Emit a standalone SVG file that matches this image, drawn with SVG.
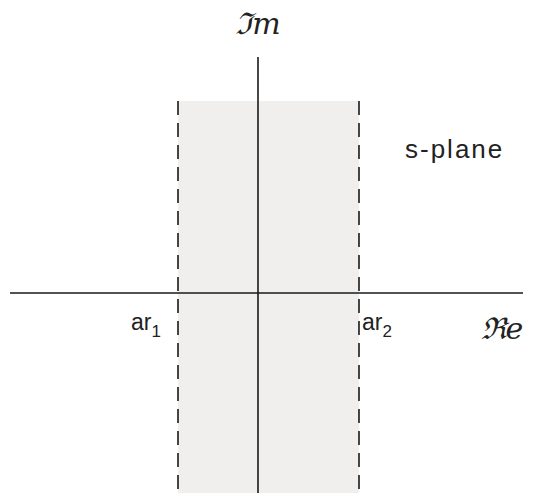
<svg xmlns="http://www.w3.org/2000/svg" width="533" height="493" viewBox="0 0 533 493">
<style>
.lbl{font-family:"Liberation Sans",Arial,sans-serif;fill:#222}
.math{font-family:"DejaVu Serif","Liberation Serif",serif;font-style:italic;fill:#222}
.axis{stroke:#1a1a1a;stroke-width:1.6;fill:none}
.dash{stroke:#1a1a1a;stroke-width:1.6;stroke-dasharray:14 8;fill:none}
</style>
<rect width="533" height="493" fill="#ffffff"/>
<g id="strip">
<rect x="178" y="101" width="181" height="392" fill="#f0efed"/>
<line class="dash" x1="178" y1="101" x2="178" y2="493"/>
<line class="dash" x1="359" y1="101" x2="359" y2="493"/>
</g>
<g id="axes">
<line class="axis" x1="258" y1="57" x2="258" y2="493"/>
<line class="axis" x1="10" y1="293" x2="523" y2="293"/>
</g>
<g id="labels">
<text class="math" x="258" y="34" font-size="30" text-anchor="middle">ℑm</text>
<text class="math" x="502" y="339" font-size="30" text-anchor="middle">ℜe</text>
<text class="lbl" x="405" y="158" font-size="26" letter-spacing="2">s-plane</text>
<text class="lbl" x="131" y="330" font-size="23">ar<tspan font-size="17" dy="7">1</tspan></text>
<text class="lbl" x="362" y="330" font-size="23">ar<tspan font-size="17" dy="7">2</tspan></text>
</g>
</svg>
